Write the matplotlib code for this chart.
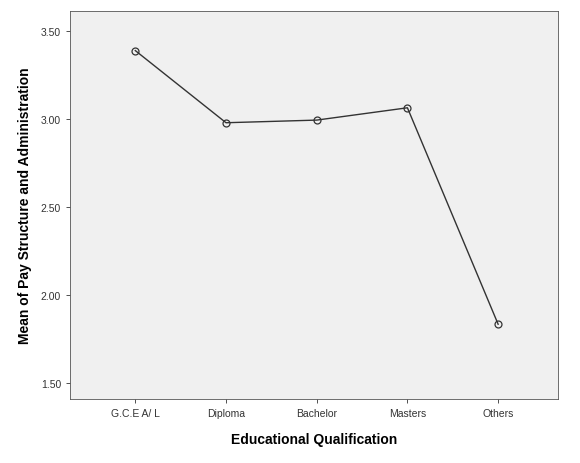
import matplotlib
matplotlib.use("Agg")
import matplotlib.pyplot as plt

categories = ["G.C.E A/ L", "Diploma", "Bachelor", "Masters", "Others"]
means = [3.39, 2.98, 2.995, 3.065, 1.835]
yticks = [1.50, 2.00, 2.50, 3.00, 3.50]

plt.rcParams["font.family"] = ["Liberation Sans", "DejaVu Sans"]

fig = plt.figure(figsize=(5.8, 4.64), dpi=100)
ax = fig.add_axes([70/580, 64/464, 488/580, 388/464])
ax.set_facecolor("#F0F0F0")

x = list(range(len(categories)))
ax.plot(x, means, color="#333333", linewidth=1.0, marker="o", markersize=5,
        markerfacecolor="none", markeredgecolor="#333333", markeredgewidth=0.9)

ax.set_xlim(-0.72, 4.66)
ax.set_ylim(1.41, 3.615)
ax.set_xticks(x)
ax.set_xticklabels(categories, fontsize=7.5)
ax.set_yticks(yticks)
ax.set_yticklabels([f"{v:.2f}" for v in yticks], fontsize=7.5)
ax.tick_params(length=3, width=0.6, colors="#333333")
for s in ax.spines.values():
    s.set_linewidth(0.6)
    s.set_color("#555555")

ax.set_xlabel("Educational Qualification", fontsize=10, fontweight="bold", labelpad=10)
ax.set_ylabel("Mean of Pay Structure and Administration", fontsize=10, fontweight="bold", labelpad=6)

fig.savefig("out.png", dpi=100)
